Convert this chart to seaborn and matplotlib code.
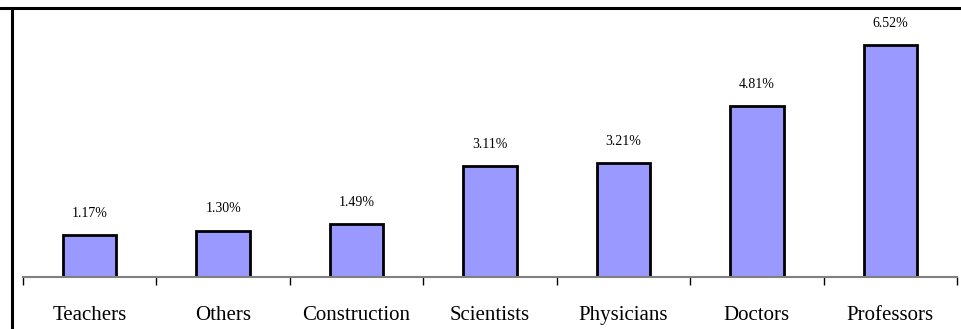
import numpy as np
import matplotlib
matplotlib.use("Agg")
import matplotlib.pyplot as plt
import seaborn as sns
from matplotlib.lines import Line2D

# data
jobs = ["Teachers", "Others", "Construction", "Scientists", "Physicians", "Doctors", "Professors"]
shares = [1.17, 1.30, 1.49, 3.11, 3.21, 4.81, 6.52]
labels = ["1.17%", "1.30%", "1.49%", "3.11%", "3.21%", "4.81%", "6.52%"]

sns.set_style("white")
plt.rcParams['font.family'] = ['Liberation Serif', 'DejaVu Serif']
plt.rcParams['text.color'] = 'black'
plt.rcParams['xtick.color'] = 'black'

W, H = 961, 329
fig = plt.figure(figsize=(W / 100, H / 100), dpi=100)
ax = fig.add_axes([23 / W, (H - 277) / H, (957 - 23) / W, (277 - 8) / H])

sns.barplot(x=jobs, y=shares, color="#9999ff", saturation=1, width=0.4,
            edgecolor="black", linewidth=2.0, ax=ax)
ax.bar_label(ax.containers[0], labels=labels, padding=11, fontsize=10, color="black")

ax.set_xlim(-0.5, len(jobs) - 0.5)
ax.set_ylim(0, 7.56)
ax.set_yticks([])
ax.set_xlabel("")
for s in ["top", "right", "left"]:
    ax.spines[s].set_visible(False)
ax.spines["bottom"].set_color("#808080")
ax.spines["bottom"].set_linewidth(1.5)

# ticks between the categories
ax.set_xticks(np.arange(-0.5, len(jobs)), minor=True)
ax.tick_params(axis="x", which="minor", bottom=True, direction="out", length=6, width=1, color="black")
ax.tick_params(axis="x", which="major", bottom=True, length=0, pad=21, labelsize=15, labelcolor="black")

# frame lines at top and left of the picture
fig.add_artist(Line2D([0, 1], [(H - 8) / H, (H - 8) / H], color="black", linewidth=2.2,
                      transform=fig.transFigure))
fig.add_artist(Line2D([12 / W, 12 / W], [0, (H - 9) / H], color="black", linewidth=2.2,
                      transform=fig.transFigure))

fig.savefig("out.png", dpi=100)
